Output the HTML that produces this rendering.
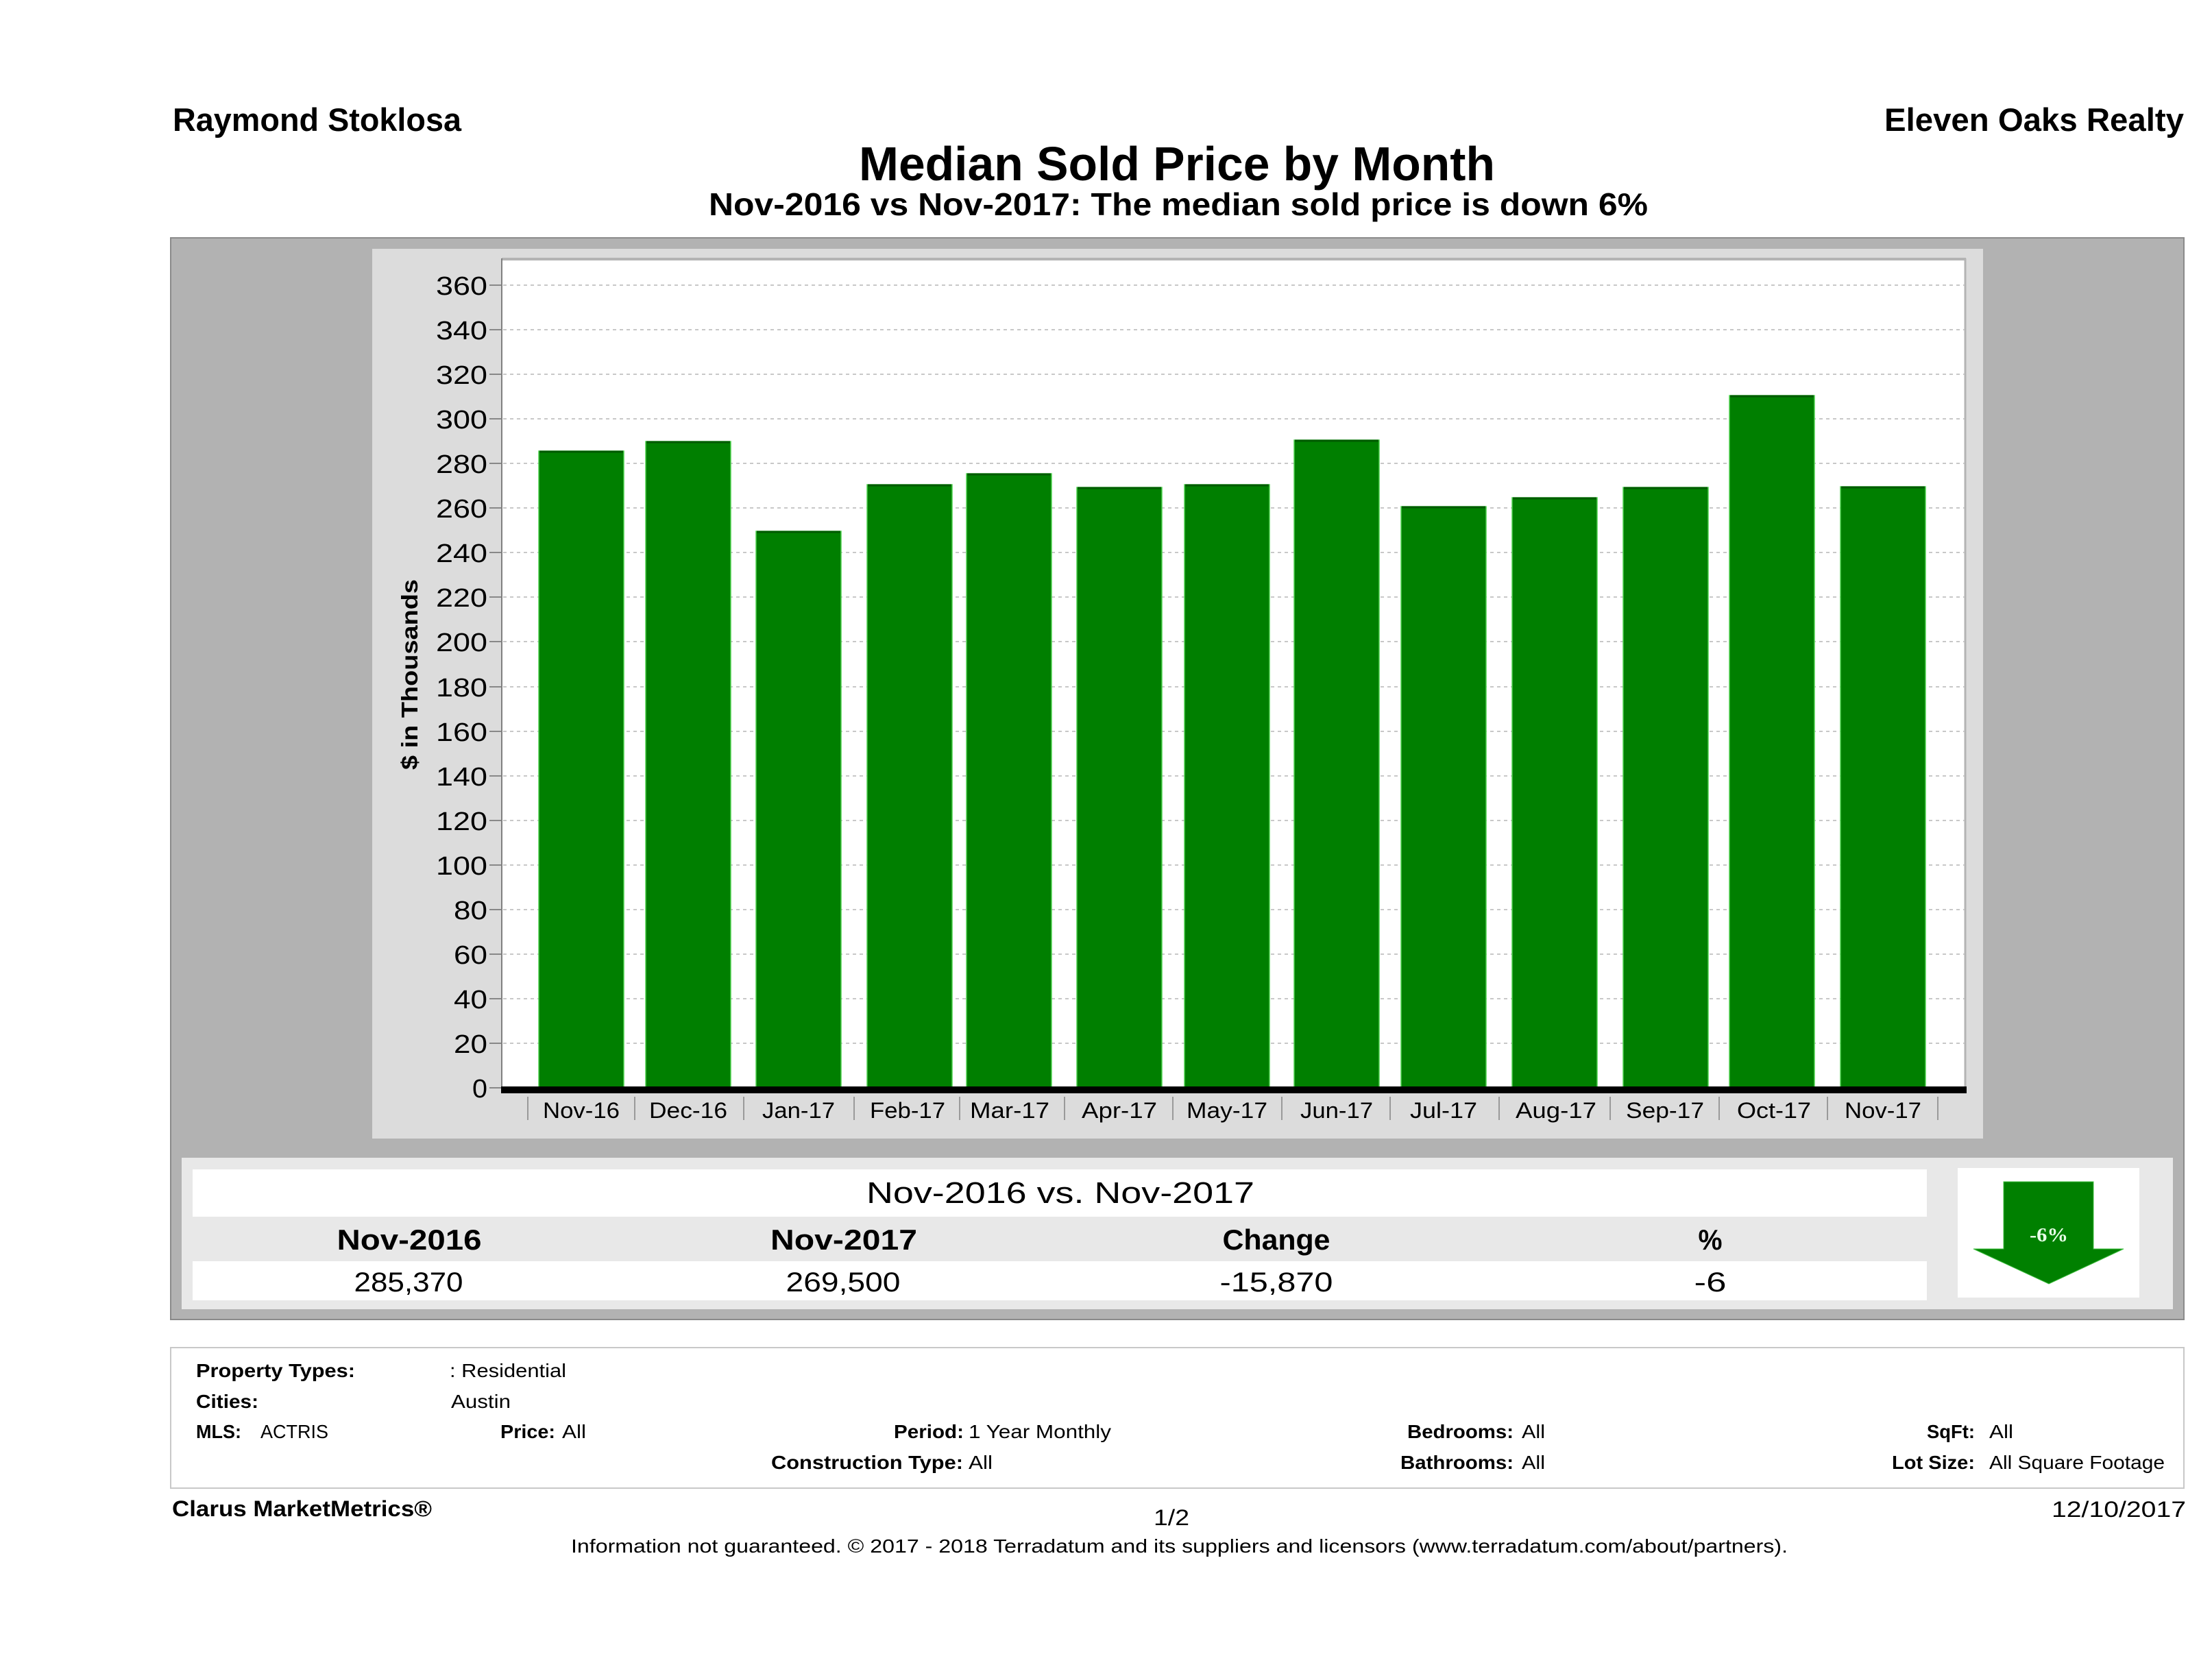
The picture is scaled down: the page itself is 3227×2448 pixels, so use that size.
<!DOCTYPE html>
<html>
<head>
<meta charset="utf-8">
<style>
html,body{margin:0;padding:0;background:#fff;}
svg{display:block;}
text{font-family:"Liberation Sans",sans-serif;fill:#000;}
.b{font-weight:bold;}
</style>
</head>
<body>
<svg width="3227" height="2448" viewBox="0 0 3227 2448" xmlns="http://www.w3.org/2000/svg">
<rect x="0" y="0" width="3227" height="2448" fill="#fff"/>

<!-- Header -->
<text class="b" x="252" y="191" font-size="47" textLength="421" lengthAdjust="spacingAndGlyphs" fill="#111">Raymond Stoklosa</text>
<text class="b" x="2749" y="191" font-size="47" textLength="437" lengthAdjust="spacingAndGlyphs" fill="#111">Eleven Oaks Realty</text>
<text class="b" x="1253" y="263" font-size="70" textLength="928" lengthAdjust="spacingAndGlyphs">Median Sold Price by Month</text>
<text class="b" x="1034" y="314" font-size="46" textLength="1370" lengthAdjust="spacingAndGlyphs">Nov-2016 vs Nov-2017: The median sold price is down 6%</text>

<!-- Gray outer panel -->
<rect x="249" y="347" width="2937" height="1578" fill="#b2b2b2" stroke="#8a8a8a" stroke-width="2"/>
<!-- Inner chart panel -->
<rect x="543" y="363" width="2350" height="1298" fill="#dcdcdc"/>
<!-- Plot area -->
<rect x="732" y="377" width="2136" height="1210" fill="#fff"/>
<line x1="732" y1="378" x2="2868" y2="378" stroke="#b4b4b4" stroke-width="4"/>
<line x1="2867" y1="377" x2="2867" y2="1587" stroke="#b4b4b4" stroke-width="3"/>

<!-- Gridlines -->
<g stroke="#c8c8c8" stroke-width="2" stroke-dasharray="5 5">
<line x1="734" y1="1522" x2="2866" y2="1522"/>
<line x1="734" y1="1457" x2="2866" y2="1457"/>
<line x1="734" y1="1392" x2="2866" y2="1392"/>
<line x1="734" y1="1327" x2="2866" y2="1327"/>
<line x1="734" y1="1262" x2="2866" y2="1262"/>
<line x1="734" y1="1197" x2="2866" y2="1197"/>
<line x1="734" y1="1132" x2="2866" y2="1132"/>
<line x1="734" y1="1067" x2="2866" y2="1067"/>
<line x1="734" y1="1002" x2="2866" y2="1002"/>
<line x1="734" y1="936" x2="2866" y2="936"/>
<line x1="734" y1="871" x2="2866" y2="871"/>
<line x1="734" y1="806" x2="2866" y2="806"/>
<line x1="734" y1="741" x2="2866" y2="741"/>
<line x1="734" y1="676" x2="2866" y2="676"/>
<line x1="734" y1="611" x2="2866" y2="611"/>
<line x1="734" y1="546" x2="2866" y2="546"/>
<line x1="734" y1="481" x2="2866" y2="481"/>
<line x1="734" y1="416" x2="2866" y2="416"/>
</g>

<!-- Y ticks -->
<g stroke="#888" stroke-width="2">
<line x1="714" y1="1587" x2="732" y2="1587"/>
<line x1="714" y1="1522" x2="732" y2="1522"/>
<line x1="714" y1="1457" x2="732" y2="1457"/>
<line x1="714" y1="1392" x2="732" y2="1392"/>
<line x1="714" y1="1327" x2="732" y2="1327"/>
<line x1="714" y1="1262" x2="732" y2="1262"/>
<line x1="714" y1="1197" x2="732" y2="1197"/>
<line x1="714" y1="1132" x2="732" y2="1132"/>
<line x1="714" y1="1067" x2="732" y2="1067"/>
<line x1="714" y1="1002" x2="732" y2="1002"/>
<line x1="714" y1="936" x2="732" y2="936"/>
<line x1="714" y1="871" x2="732" y2="871"/>
<line x1="714" y1="806" x2="732" y2="806"/>
<line x1="714" y1="741" x2="732" y2="741"/>
<line x1="714" y1="676" x2="732" y2="676"/>
<line x1="714" y1="611" x2="732" y2="611"/>
<line x1="714" y1="546" x2="732" y2="546"/>
<line x1="714" y1="481" x2="732" y2="481"/>
<line x1="714" y1="416" x2="732" y2="416"/>
</g>

<!-- Y tick labels -->
<g font-size="38" text-anchor="end" fill="#111">
<text x="711" y="1601" textLength="22" lengthAdjust="spacingAndGlyphs">0</text>
<text x="711" y="1536" textLength="49" lengthAdjust="spacingAndGlyphs">20</text>
<text x="711" y="1471" textLength="49" lengthAdjust="spacingAndGlyphs">40</text>
<text x="711" y="1406" textLength="49" lengthAdjust="spacingAndGlyphs">60</text>
<text x="711" y="1341" textLength="49" lengthAdjust="spacingAndGlyphs">80</text>
<text x="711" y="1276" textLength="75" lengthAdjust="spacingAndGlyphs">100</text>
<text x="711" y="1211" textLength="75" lengthAdjust="spacingAndGlyphs">120</text>
<text x="711" y="1146" textLength="75" lengthAdjust="spacingAndGlyphs">140</text>
<text x="711" y="1081" textLength="75" lengthAdjust="spacingAndGlyphs">160</text>
<text x="711" y="1016" textLength="75" lengthAdjust="spacingAndGlyphs">180</text>
<text x="711" y="950" textLength="75" lengthAdjust="spacingAndGlyphs">200</text>
<text x="711" y="885" textLength="75" lengthAdjust="spacingAndGlyphs">220</text>
<text x="711" y="820" textLength="75" lengthAdjust="spacingAndGlyphs">240</text>
<text x="711" y="755" textLength="75" lengthAdjust="spacingAndGlyphs">260</text>
<text x="711" y="690" textLength="75" lengthAdjust="spacingAndGlyphs">280</text>
<text x="711" y="625" textLength="75" lengthAdjust="spacingAndGlyphs">300</text>
<text x="711" y="560" textLength="75" lengthAdjust="spacingAndGlyphs">320</text>
<text x="711" y="495" textLength="75" lengthAdjust="spacingAndGlyphs">340</text>
<text x="711" y="430" textLength="75" lengthAdjust="spacingAndGlyphs">360</text>
</g>

<!-- Y axis title -->
<text class="b" font-size="33" text-anchor="middle" transform="translate(609,984) rotate(-90)" textLength="278" lengthAdjust="spacingAndGlyphs" fill="#111">$ in Thousands</text>

<!-- Bars -->
<g fill="#007f00" stroke="#4fd04f" stroke-width="1.5">
<rect x="786" y="658" width="124" height="929"/>
<rect x="942" y="644" width="124" height="943"/>
<rect x="1103" y="775" width="124" height="812"/>
<rect x="1265" y="707" width="124" height="880"/>
<rect x="1410" y="691" width="124" height="896"/>
<rect x="1571" y="711" width="124" height="876"/>
<rect x="1728" y="707" width="124" height="880"/>
<rect x="1888" y="642" width="124" height="945"/>
<rect x="2044" y="739" width="124" height="848"/>
<rect x="2206" y="726" width="124" height="861"/>
<rect x="2368" y="711" width="124" height="876"/>
<rect x="2523" y="577" width="124" height="1010"/>
<rect x="2685" y="710" width="124" height="877"/>
</g>
<g stroke="#005a00" stroke-width="3">
<line x1="787" y1="659" x2="909" y2="659"/>
<line x1="943" y1="645" x2="1065" y2="645"/>
<line x1="1104" y1="776" x2="1226" y2="776"/>
<line x1="1266" y1="708" x2="1388" y2="708"/>
<line x1="1411" y1="692" x2="1533" y2="692"/>
<line x1="1572" y1="712" x2="1694" y2="712"/>
<line x1="1729" y1="708" x2="1851" y2="708"/>
<line x1="1889" y1="643" x2="2011" y2="643"/>
<line x1="2045" y1="740" x2="2167" y2="740"/>
<line x1="2207" y1="727" x2="2329" y2="727"/>
<line x1="2369" y1="712" x2="2491" y2="712"/>
<line x1="2524" y1="578" x2="2646" y2="578"/>
<line x1="2686" y1="711" x2="2808" y2="711"/>
</g>

<!-- Axis lines -->
<line x1="732" y1="377" x2="732" y2="1590" stroke="#808080" stroke-width="2"/>
<rect x="731" y="1585" width="2138" height="10" fill="#000"/>

<!-- X separators -->
<g stroke="#9a9a9a" stroke-width="2">
<line x1="770" y1="1600" x2="770" y2="1634"/>
<line x1="926" y1="1600" x2="926" y2="1634"/>
<line x1="1085" y1="1600" x2="1085" y2="1634"/>
<line x1="1246" y1="1600" x2="1246" y2="1634"/>
<line x1="1400" y1="1600" x2="1400" y2="1634"/>
<line x1="1553" y1="1600" x2="1553" y2="1634"/>
<line x1="1711" y1="1600" x2="1711" y2="1634"/>
<line x1="1870" y1="1600" x2="1870" y2="1634"/>
<line x1="2028" y1="1600" x2="2028" y2="1634"/>
<line x1="2187" y1="1600" x2="2187" y2="1634"/>
<line x1="2349" y1="1600" x2="2349" y2="1634"/>
<line x1="2508" y1="1600" x2="2508" y2="1634"/>
<line x1="2666" y1="1600" x2="2666" y2="1634"/>
<line x1="2827" y1="1600" x2="2827" y2="1634"/>
</g>

<!-- X labels -->
<g font-size="32" text-anchor="middle" fill="#111">
<text x="848" y="1631" textLength="112" lengthAdjust="spacingAndGlyphs">Nov-16</text>
<text x="1004" y="1631" textLength="114" lengthAdjust="spacingAndGlyphs">Dec-16</text>
<text x="1165" y="1631" textLength="106" lengthAdjust="spacingAndGlyphs">Jan-17</text>
<text x="1324" y="1631" textLength="110" lengthAdjust="spacingAndGlyphs">Feb-17</text>
<text x="1473" y="1631" textLength="116" lengthAdjust="spacingAndGlyphs">Mar-17</text>
<text x="1633" y="1631" textLength="110" lengthAdjust="spacingAndGlyphs">Apr-17</text>
<text x="1790" y="1631" textLength="118" lengthAdjust="spacingAndGlyphs">May-17</text>
<text x="1950" y="1631" textLength="106" lengthAdjust="spacingAndGlyphs">Jun-17</text>
<text x="2106" y="1631" textLength="98" lengthAdjust="spacingAndGlyphs">Jul-17</text>
<text x="2270" y="1631" textLength="118" lengthAdjust="spacingAndGlyphs">Aug-17</text>
<text x="2429" y="1631" textLength="114" lengthAdjust="spacingAndGlyphs">Sep-17</text>
<text x="2588" y="1631" textLength="108" lengthAdjust="spacingAndGlyphs">Oct-17</text>
<text x="2747" y="1631" textLength="112" lengthAdjust="spacingAndGlyphs">Nov-17</text>
</g>

<!-- Summary area -->
<rect x="265" y="1689" width="2905" height="221" fill="#e8e8e8"/>
<rect x="281" y="1706" width="2530" height="69" fill="#fff"/>
<rect x="281" y="1840" width="2530" height="57" fill="#fff"/>
<rect x="2856" y="1704" width="265" height="189" fill="#fff"/>

<text x="1547" y="1755" font-size="44" text-anchor="middle" textLength="566" lengthAdjust="spacingAndGlyphs" fill="#111">Nov-2016 vs. Nov-2017</text>

<g class="b" font-size="42" text-anchor="middle" font-weight="bold" fill="#111">
<text x="597" y="1823" textLength="211" lengthAdjust="spacingAndGlyphs">Nov-2016</text>
<text x="1231" y="1823" textLength="214" lengthAdjust="spacingAndGlyphs">Nov-2017</text>
<text x="1862" y="1823" textLength="157" lengthAdjust="spacingAndGlyphs">Change</text>
<text x="2495" y="1823" textLength="35" lengthAdjust="spacingAndGlyphs">%</text>
</g>
<g font-size="40" text-anchor="middle" fill="#111">
<text x="596" y="1884" textLength="159" lengthAdjust="spacingAndGlyphs">285,370</text>
<text x="1230" y="1884" textLength="167" lengthAdjust="spacingAndGlyphs">269,500</text>
<text x="1862" y="1884" textLength="165" lengthAdjust="spacingAndGlyphs">-15,870</text>
<text x="2495" y="1884" textLength="47" lengthAdjust="spacingAndGlyphs">-6</text>
</g>

<!-- Arrow -->
<polygon points="2923,1724 3054,1724 3054,1822 3098,1822 2989,1873 2879,1822 2923,1822" fill="#008000" stroke="#3fbf3f" stroke-width="1"/>
<text x="2989" y="1811" font-size="29" font-weight="bold" text-anchor="middle" textLength="56" lengthAdjust="spacingAndGlyphs" style="font-family:'Liberation Serif',serif;fill:#e8ffe8;">-6%</text>

<!-- Info box -->
<rect x="249" y="1966" width="2937" height="205" fill="#fff" stroke="#c8c8c8" stroke-width="2"/>
<g font-size="28" fill="#111">
<text class="b" x="286" y="2009" textLength="232" lengthAdjust="spacingAndGlyphs">Property Types:</text>
<text x="656" y="2009" textLength="170" lengthAdjust="spacingAndGlyphs">: Residential</text>
<text class="b" x="286" y="2054" textLength="91" lengthAdjust="spacingAndGlyphs">Cities:</text>
<text x="658" y="2054" textLength="87" lengthAdjust="spacingAndGlyphs">Austin</text>
<text class="b" x="286" y="2098" textLength="66" lengthAdjust="spacingAndGlyphs">MLS:</text>
<text x="380" y="2098" textLength="99" lengthAdjust="spacingAndGlyphs">ACTRIS</text>
<text class="b" x="730" y="2098" textLength="80" lengthAdjust="spacingAndGlyphs">Price:</text>
<text x="820" y="2098" textLength="35" lengthAdjust="spacingAndGlyphs">All</text>
<text class="b" x="1304" y="2098" textLength="102" lengthAdjust="spacingAndGlyphs">Period:</text>
<text x="1413" y="2098" textLength="208" lengthAdjust="spacingAndGlyphs">1 Year Monthly</text>
<text class="b" x="1125" y="2143" textLength="280" lengthAdjust="spacingAndGlyphs">Construction Type:</text>
<text x="1413" y="2143" textLength="35" lengthAdjust="spacingAndGlyphs">All</text>
<text class="b" x="2053" y="2098" textLength="155" lengthAdjust="spacingAndGlyphs">Bedrooms:</text>
<text x="2220" y="2098" textLength="34" lengthAdjust="spacingAndGlyphs">All</text>
<text class="b" x="2043" y="2143" textLength="165" lengthAdjust="spacingAndGlyphs">Bathrooms:</text>
<text x="2220" y="2143" textLength="34" lengthAdjust="spacingAndGlyphs">All</text>
<text class="b" x="2811" y="2098" textLength="70" lengthAdjust="spacingAndGlyphs">SqFt:</text>
<text x="2902" y="2098" textLength="35" lengthAdjust="spacingAndGlyphs">All</text>
<text class="b" x="2760" y="2143" textLength="121" lengthAdjust="spacingAndGlyphs">Lot Size:</text>
<text x="2902" y="2143" textLength="256" lengthAdjust="spacingAndGlyphs">All Square Footage</text>
</g>

<!-- Footer -->
<text class="b" x="251" y="2212" font-size="32" textLength="379" lengthAdjust="spacingAndGlyphs" fill="#111">Clarus MarketMetrics®</text>
<text x="1683" y="2225" font-size="32" textLength="52" lengthAdjust="spacingAndGlyphs" fill="#111">1/2</text>
<text x="2993" y="2213" font-size="32" textLength="196" lengthAdjust="spacingAndGlyphs" fill="#111">12/10/2017</text>
<text x="833" y="2265" font-size="28" textLength="1775" lengthAdjust="spacingAndGlyphs" fill="#111">Information not guaranteed. © 2017 - 2018 Terradatum and its suppliers and licensors (www.terradatum.com/about/partners).</text>
</svg>
</body>
</html>
